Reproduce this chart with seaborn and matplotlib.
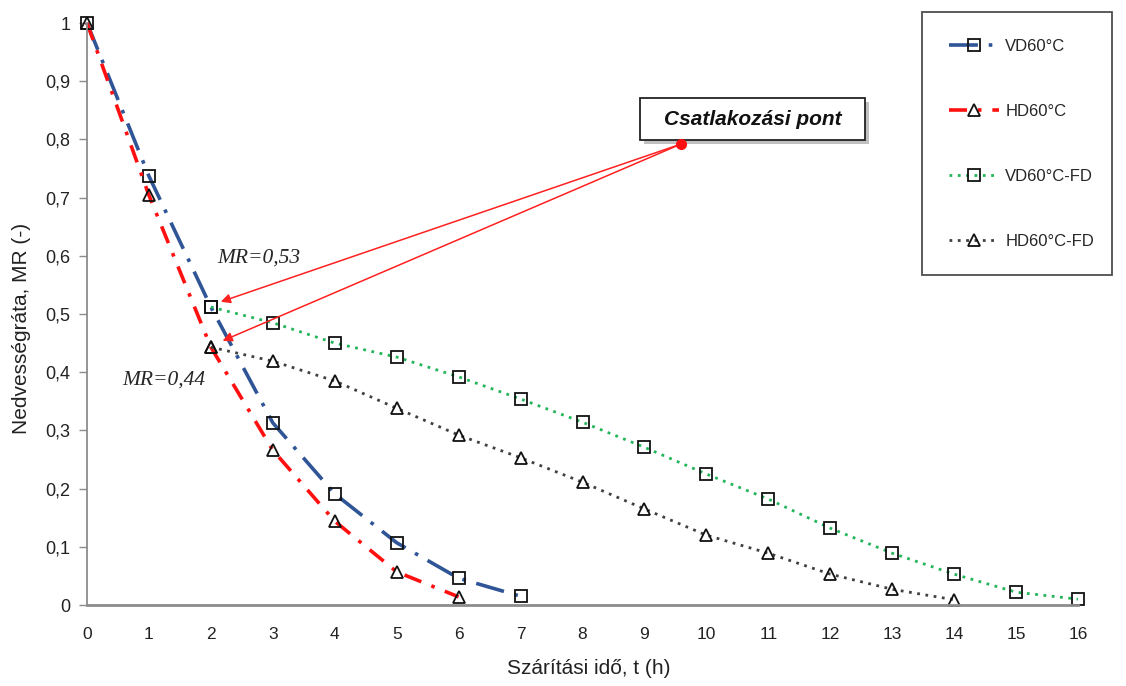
import matplotlib
matplotlib.use("Agg")
import matplotlib.pyplot as plt
import matplotlib.patheffects as pe
from matplotlib.patches import Rectangle
import seaborn as sns

# drying curves, MR
t_vd = [0, 1, 2, 3, 4, 5, 6, 7]
mr_vd = [1.0, 0.737, 0.512, 0.313, 0.191, 0.107, 0.046, 0.015]

t_hd = [0, 1, 2, 3, 4, 5, 6]
mr_hd = [1.0, 0.704, 0.443, 0.266, 0.144, 0.057, 0.014]

t_vd_fd = [2, 3, 4, 5, 6, 7, 8, 9, 10, 11, 12, 13, 14, 15, 16]
mr_vd_fd = [0.512, 0.485, 0.450, 0.426, 0.392, 0.354, 0.314, 0.271,
            0.225, 0.182, 0.132, 0.089, 0.053, 0.022, 0.010]

t_hd_fd = [2, 3, 4, 5, 6, 7, 8, 9, 10, 11, 12, 13, 14]
mr_hd_fd = [0.443, 0.419, 0.385, 0.338, 0.292, 0.253, 0.211, 0.165,
            0.120, 0.089, 0.053, 0.027, 0.009]

x_ticks = list(range(0, 17))
y_ticks = [0, 0.1, 0.2, 0.3, 0.4, 0.5, 0.6, 0.7, 0.8, 0.9, 1.0]
y_ticklabels = ["0", "0,1", "0,2", "0,3", "0,4", "0,5", "0,6", "0,7", "0,8", "0,9", "1"]

sns.set_theme(style="white")
plt.rcParams["font.family"] = ["Liberation Sans", "DejaVu Sans"]

fig = plt.figure(figsize=(11.26, 6.86), dpi=100)
ax = fig.add_axes([87 / 1126, 1 - 605 / 686, (1078 - 87) / 1126, (605 - 23) / 686])

mk = dict(markerfacecolor="none", markeredgecolor="#111111", markeredgewidth=1.3,
          markersize=8.5, clip_on=False)

sns.lineplot(x=t_vd, y=mr_vd, ax=ax, color="#2F5597", lw=2.6,
             linestyle=(0, (8, 3, 1, 3)), marker="s", label="VD60°C", **mk)
sns.lineplot(x=t_hd, y=mr_hd, ax=ax, color="#FF1010", lw=2.6,
             linestyle=(0, (5, 3, 1, 3)), marker="^", label="HD60°C", **mk)
sns.lineplot(x=t_vd_fd, y=mr_vd_fd, ax=ax, color="#22B55A", lw=2.0,
             linestyle=(0, (1, 2)), marker="s", label="VD60°C-FD", **mk)
sns.lineplot(x=t_hd_fd, y=mr_hd_fd, ax=ax, color="#404040", lw=2.0,
             linestyle=(0, (1, 2)), marker="^", label="HD60°C-FD", **mk)

ax.set_xlim(0, 16)
ax.set_ylim(0, 1)
ax.set_xticks(x_ticks)
ax.set_xticklabels([str(v) for v in x_ticks], fontsize=12.5, color="#222222")
ax.set_yticks(y_ticks)
ax.set_yticklabels(y_ticklabels, fontsize=13, color="#222222")
ax.tick_params(axis="y", which="both", left=True, length=6, width=1, color="#8c8c8c", pad=6)
ax.tick_params(axis="x", bottom=False, pad=10)
for s in ["top", "right"]:
    ax.spines[s].set_visible(False)
ax.spines["left"].set_color("#8c8c8c")
ax.spines["left"].set_linewidth(1.3)
ax.spines["bottom"].set_color("#8c8c8c")
ax.spines["bottom"].set_linewidth(2.0)
ax.grid(False)

ax.set_xlabel("Szárítási idő, t (h)", fontsize=15, color="#222222")
ax.set_ylabel("Nedvességráta, MR (-)", fontsize=15, color="#222222")
ax.xaxis.set_label_coords(0.506, -0.093)
ax.yaxis.set_label_coords(-0.057, 0.476)

# connection point callout
box = Rectangle((8.93, 0.799), 3.63, 0.072, facecolor="white", edgecolor="#222222",
                linewidth=1.3, zorder=4)
box.set_path_effects([pe.SimplePatchShadow(offset=(3, -3), alpha=0.35), pe.Normal()])
ax.add_patch(box)
ax.text(10.745, 0.835, "Csatlakozási pont", fontsize=15, fontweight="bold",
        fontstyle="italic", ha="center", va="center", color="#111111", zorder=5)

dot = (9.59, 0.792)
for target in [(2.16, 0.521), (2.19, 0.454)]:
    ax.annotate("", xy=target, xytext=dot,
                arrowprops=dict(arrowstyle="-|>", color="#FF2020", lw=1.1,
                                mutation_scale=14, shrinkA=0, shrinkB=0))
ax.plot([dot[0]], [dot[1]], "o", color="#FF1010", markersize=7, zorder=6)

ax.text(2.1, 0.596, "MR=0,53", fontsize=15.5, fontstyle="italic",
        family=["Liberation Serif", "DejaVu Serif"], ha="left", va="center")
ax.text(0.57, 0.387, "MR=0,44", fontsize=15.5, fontstyle="italic",
        family=["Liberation Serif", "DejaVu Serif"], ha="left", va="center")

leg = ax.legend(loc="upper left",
                bbox_to_anchor=(922 / 1126, 1 - 270 / 686, 190 / 1126, 258 / 686),
                bbox_transform=fig.transFigure, mode="expand", fontsize=12,
                frameon=True, fancybox=False, edgecolor="#222222", borderaxespad=0,
                handlelength=3.0, labelspacing=3.0, borderpad=1.6, handletextpad=0.4)
leg.get_frame().set_linewidth(1.3)

fig.savefig("out.png", dpi=100)
